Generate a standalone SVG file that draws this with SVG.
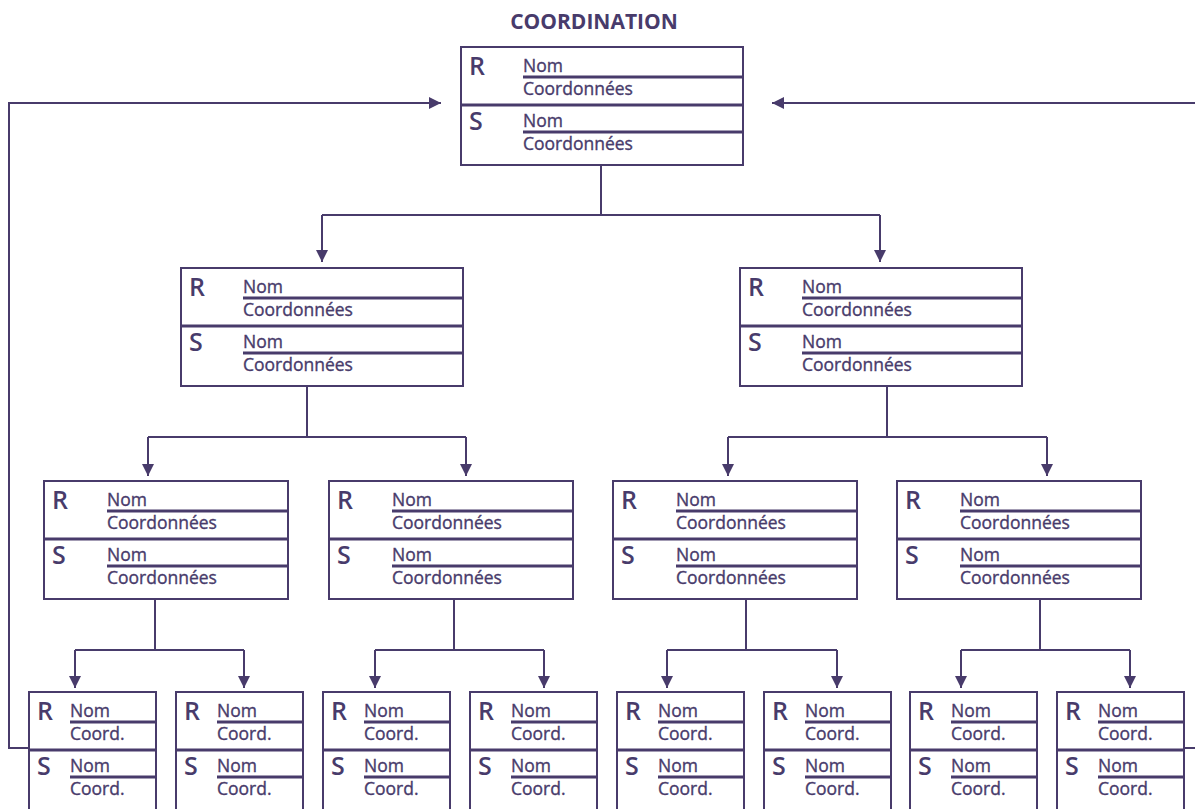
<svg xmlns="http://www.w3.org/2000/svg" width="1195" height="809" viewBox="0 0 1195 809">
<style>
.bx{fill:#fff;stroke:#483b6b;stroke-width:2}
.ln{stroke:#483b6b;stroke-width:3;fill:none}
.c{stroke:#483b6b;stroke-width:2;fill:none}
.t{font-family:"Open Sans","Liberation Sans",sans-serif;font-size:17.5px;fill:#483b6b;stroke:#483b6b;stroke-width:0.35px}
.L{font-family:"Open Sans","Liberation Sans",sans-serif;font-size:25px;fill:#483b6b;font-weight:600}
.h{font-family:"Open Sans","Liberation Sans",sans-serif;font-size:21px;fill:#483b6b;font-weight:700}
</style>
<defs>
<marker id="a" markerUnits="userSpaceOnUse" markerWidth="12" markerHeight="12" refX="12" refY="6" orient="auto"><path d="M0 0L12 6L0 12z" fill="#483b6b"/></marker>
</defs>
<rect width="1195" height="809" fill="#fff"/>
<text class="h" x="594" y="29" text-anchor="middle">COORDINATION</text>
<g id="connectors">
<path class="c" d="M601 165V215M322 215H880"/>
<path class="c" d="M322 215V262" marker-end="url(#a)"/>
<path class="c" d="M880 215V262" marker-end="url(#a)"/>
<path class="c" d="M307 386V437M148 437H466M887 386V437M728 437H1047"/>
<path class="c" d="M148 437V476" marker-end="url(#a)"/>
<path class="c" d="M466 437V476" marker-end="url(#a)"/>
<path class="c" d="M728 437V476" marker-end="url(#a)"/>
<path class="c" d="M1047 437V476" marker-end="url(#a)"/>
<path class="c" d="M155 599V650M75 650H244M454 599V650M375 650H544M746 599V650M667 650H837M1040 599V650M961 650H1130"/>
<path class="c" d="M75 650V688" marker-end="url(#a)"/>
<path class="c" d="M244 650V688" marker-end="url(#a)"/>
<path class="c" d="M375 650V688" marker-end="url(#a)"/>
<path class="c" d="M544 650V688" marker-end="url(#a)"/>
<path class="c" d="M667 650V688" marker-end="url(#a)"/>
<path class="c" d="M837 650V688" marker-end="url(#a)"/>
<path class="c" d="M961 650V688" marker-end="url(#a)"/>
<path class="c" d="M1130 650V688" marker-end="url(#a)"/>
<path class="c" d="M29 748H9V103H441" marker-end="url(#a)"/>
<path class="c" d="M1195 103H772" marker-end="url(#a)"/>
<path class="c" d="M1184 748H1195"/>
</g>
<g id="n0" transform="translate(461 47)">
<rect class="bx" x="0" y="0" width="282" height="118"/>
<path class="ln" d="M62 30H282M0 58H282M62 85H282"/>
<text class="L" x="8" y="28">R</text><text class="L" x="8" y="83">S</text>
<text class="t" x="62" y="25">Nom</text><text class="t" x="62" y="48">Coordonnées</text>
<text class="t" x="62" y="80">Nom</text><text class="t" x="62" y="103">Coordonnées</text>
</g>
<g id="n1" transform="translate(181 268)">
<rect class="bx" x="0" y="0" width="282" height="118"/>
<path class="ln" d="M62 30H282M0 58H282M62 85H282"/>
<text class="L" x="8" y="28">R</text><text class="L" x="8" y="83">S</text>
<text class="t" x="62" y="25">Nom</text><text class="t" x="62" y="48">Coordonnées</text>
<text class="t" x="62" y="80">Nom</text><text class="t" x="62" y="103">Coordonnées</text>
</g>
<g id="n2" transform="translate(740 268)">
<rect class="bx" x="0" y="0" width="282" height="118"/>
<path class="ln" d="M62 30H282M0 58H282M62 85H282"/>
<text class="L" x="8" y="28">R</text><text class="L" x="8" y="83">S</text>
<text class="t" x="62" y="25">Nom</text><text class="t" x="62" y="48">Coordonnées</text>
<text class="t" x="62" y="80">Nom</text><text class="t" x="62" y="103">Coordonnées</text>
</g>
<g id="n3" transform="translate(44 481)">
<rect class="bx" x="0" y="0" width="244" height="118"/>
<path class="ln" d="M63 30H244M0 58H244M63 85H244"/>
<text class="L" x="8" y="28">R</text><text class="L" x="8" y="83">S</text>
<text class="t" x="63" y="25">Nom</text><text class="t" x="63" y="48">Coordonnées</text>
<text class="t" x="63" y="80">Nom</text><text class="t" x="63" y="103">Coordonnées</text>
</g>
<g id="n4" transform="translate(329 481)">
<rect class="bx" x="0" y="0" width="244" height="118"/>
<path class="ln" d="M63 30H244M0 58H244M63 85H244"/>
<text class="L" x="8" y="28">R</text><text class="L" x="8" y="83">S</text>
<text class="t" x="63" y="25">Nom</text><text class="t" x="63" y="48">Coordonnées</text>
<text class="t" x="63" y="80">Nom</text><text class="t" x="63" y="103">Coordonnées</text>
</g>
<g id="n5" transform="translate(613 481)">
<rect class="bx" x="0" y="0" width="244" height="118"/>
<path class="ln" d="M63 30H244M0 58H244M63 85H244"/>
<text class="L" x="8" y="28">R</text><text class="L" x="8" y="83">S</text>
<text class="t" x="63" y="25">Nom</text><text class="t" x="63" y="48">Coordonnées</text>
<text class="t" x="63" y="80">Nom</text><text class="t" x="63" y="103">Coordonnées</text>
</g>
<g id="n6" transform="translate(897 481)">
<rect class="bx" x="0" y="0" width="244" height="118"/>
<path class="ln" d="M63 30H244M0 58H244M63 85H244"/>
<text class="L" x="8" y="28">R</text><text class="L" x="8" y="83">S</text>
<text class="t" x="63" y="25">Nom</text><text class="t" x="63" y="48">Coordonnées</text>
<text class="t" x="63" y="80">Nom</text><text class="t" x="63" y="103">Coordonnées</text>
</g>
<g id="n7" transform="translate(29 692)">
<rect class="bx" x="0" y="0" width="127" height="130"/>
<path class="ln" d="M41 30H127M0 58H127M41 85H127"/>
<text class="L" x="8" y="28">R</text><text class="L" x="8" y="83">S</text>
<text class="t" x="41" y="25">Nom</text><text class="t" x="41" y="48">Coord.</text>
<text class="t" x="41" y="80">Nom</text><text class="t" x="41" y="103">Coord.</text>
</g>
<g id="n8" transform="translate(176 692)">
<rect class="bx" x="0" y="0" width="127" height="130"/>
<path class="ln" d="M41 30H127M0 58H127M41 85H127"/>
<text class="L" x="8" y="28">R</text><text class="L" x="8" y="83">S</text>
<text class="t" x="41" y="25">Nom</text><text class="t" x="41" y="48">Coord.</text>
<text class="t" x="41" y="80">Nom</text><text class="t" x="41" y="103">Coord.</text>
</g>
<g id="n9" transform="translate(323 692)">
<rect class="bx" x="0" y="0" width="127" height="130"/>
<path class="ln" d="M41 30H127M0 58H127M41 85H127"/>
<text class="L" x="8" y="28">R</text><text class="L" x="8" y="83">S</text>
<text class="t" x="41" y="25">Nom</text><text class="t" x="41" y="48">Coord.</text>
<text class="t" x="41" y="80">Nom</text><text class="t" x="41" y="103">Coord.</text>
</g>
<g id="n10" transform="translate(470 692)">
<rect class="bx" x="0" y="0" width="127" height="130"/>
<path class="ln" d="M41 30H127M0 58H127M41 85H127"/>
<text class="L" x="8" y="28">R</text><text class="L" x="8" y="83">S</text>
<text class="t" x="41" y="25">Nom</text><text class="t" x="41" y="48">Coord.</text>
<text class="t" x="41" y="80">Nom</text><text class="t" x="41" y="103">Coord.</text>
</g>
<g id="n11" transform="translate(617 692)">
<rect class="bx" x="0" y="0" width="127" height="130"/>
<path class="ln" d="M41 30H127M0 58H127M41 85H127"/>
<text class="L" x="8" y="28">R</text><text class="L" x="8" y="83">S</text>
<text class="t" x="41" y="25">Nom</text><text class="t" x="41" y="48">Coord.</text>
<text class="t" x="41" y="80">Nom</text><text class="t" x="41" y="103">Coord.</text>
</g>
<g id="n12" transform="translate(764 692)">
<rect class="bx" x="0" y="0" width="127" height="130"/>
<path class="ln" d="M41 30H127M0 58H127M41 85H127"/>
<text class="L" x="8" y="28">R</text><text class="L" x="8" y="83">S</text>
<text class="t" x="41" y="25">Nom</text><text class="t" x="41" y="48">Coord.</text>
<text class="t" x="41" y="80">Nom</text><text class="t" x="41" y="103">Coord.</text>
</g>
<g id="n13" transform="translate(910 692)">
<rect class="bx" x="0" y="0" width="127" height="130"/>
<path class="ln" d="M41 30H127M0 58H127M41 85H127"/>
<text class="L" x="8" y="28">R</text><text class="L" x="8" y="83">S</text>
<text class="t" x="41" y="25">Nom</text><text class="t" x="41" y="48">Coord.</text>
<text class="t" x="41" y="80">Nom</text><text class="t" x="41" y="103">Coord.</text>
</g>
<g id="n14" transform="translate(1057 692)">
<rect class="bx" x="0" y="0" width="127" height="130"/>
<path class="ln" d="M41 30H127M0 58H127M41 85H127"/>
<text class="L" x="8" y="28">R</text><text class="L" x="8" y="83">S</text>
<text class="t" x="41" y="25">Nom</text><text class="t" x="41" y="48">Coord.</text>
<text class="t" x="41" y="80">Nom</text><text class="t" x="41" y="103">Coord.</text>
</g>
</svg>
